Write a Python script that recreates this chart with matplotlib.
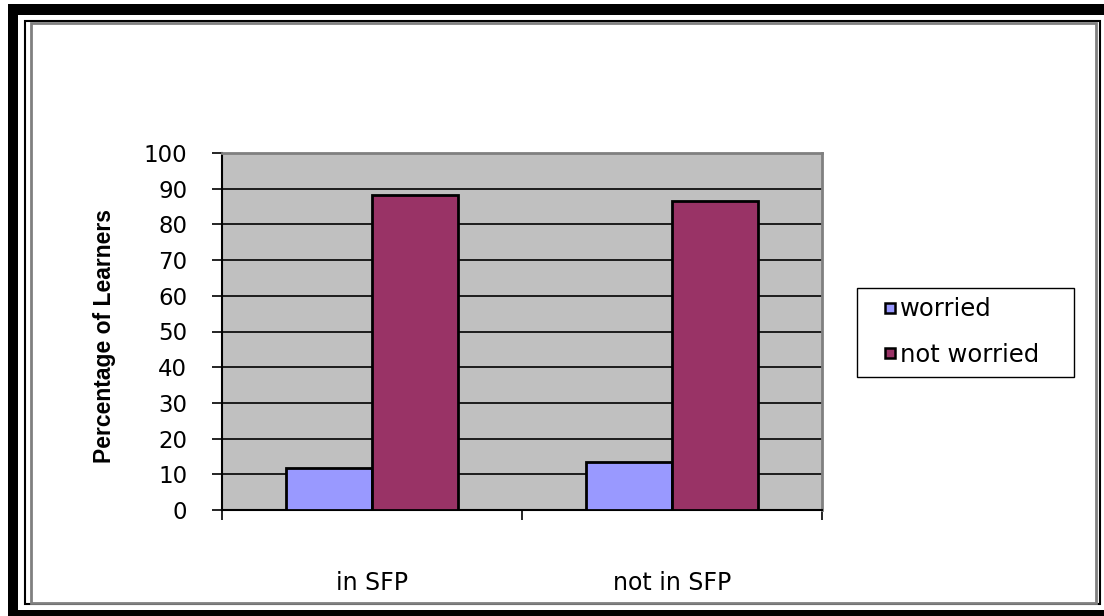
import matplotlib
matplotlib.use("Agg")
import matplotlib.pyplot as plt
from matplotlib.patches import Rectangle
from matplotlib.lines import Line2D
import numpy as np

groups = ["in SFP", "not in SFP"]
series_names = ["worried", "not worried"]
worried = [11.8, 13.4]
not_worried = [88.2, 86.6]
series_colors = ["#9999FF", "#993366"]

W, H = 1104, 616


def px_rect(fig, x0, y0, x1, y1, **kw):
    # pixel box (top-left origin) -> figure-fraction rectangle
    r = Rectangle((x0 / W, 1 - y1 / H), (x1 - x0) / W, (y1 - y0) / H,
                  transform=fig.transFigure, **kw)
    fig.patches.append(r)
    return r


fig = plt.figure(figsize=(W / 100, H / 100), dpi=100)
fig.patch.set_facecolor("white")

# page frame
px_rect(fig, 8, 4, 1104, 15, facecolor="black", edgecolor="none")
px_rect(fig, 8, 4, 18, 616, facecolor="black", edgecolor="none")
px_rect(fig, 8, 610, 1104, 616, facecolor="black", edgecolor="none")
px_rect(fig, 25, 21, 1100, 604, facecolor="none", edgecolor="black", lw=1.5)
px_rect(fig, 31, 23, 1096, 603, facecolor="none", edgecolor="#808080", lw=2)

ax = fig.add_axes([222 / W, 1 - 510 / H, 600 / W, 357 / H])
ax.set_facecolor("#C0C0C0")

x = np.arange(len(groups))
bw = 1 / 3.5
ax.bar(x - bw / 2, worried, bw, color=series_colors[0], edgecolor="black",
       linewidth=2, zorder=3)
ax.bar(x + bw / 2, not_worried, bw, color=series_colors[1], edgecolor="black",
       linewidth=2, zorder=3)

ax.set_xlim(-0.5, len(groups) - 0.5)
ax.set_ylim(0, 100)
ax.set_yticks(range(0, 101, 10))
ax.yaxis.grid(True, color="black", lw=1.2)
ax.set_axisbelow(True)

ax.set_xticks(np.arange(len(groups) + 1) - 0.5)
ax.set_xticklabels([])
ax.set_xticks(x, minor=True)
ax.set_xticklabels(groups, minor=True)
ax.tick_params(axis="x", which="major", direction="out", length=7, width=1.2)
ax.tick_params(axis="x", which="minor", length=0, pad=44, labelsize=17)
ax.tick_params(axis="y", direction="out", length=7, width=1.2, pad=18,
               labelsize=16.5)

for s in ["left", "bottom"]:
    ax.spines[s].set_color("black")
    ax.spines[s].set_linewidth(1.5)
for s in ["top", "right"]:
    ax.spines[s].set_color("#808080")
    ax.spines[s].set_linewidth(2)

fig.text(104 / W, 1 - 336 / H, "Percentage of Learners", rotation=90,
         ha="center", va="center", fontsize=16.5, fontweight="bold",
         family="Liberation Sans")

# legend box drawn separately so its padding can be wider than the entries
px_rect(fig, 857, 288, 1074, 377, facecolor="white", edgecolor="black", lw=1)
handles = [Line2D([], [], ls="none", marker="s", markersize=7.5,
                  markerfacecolor=c, markeredgecolor="black", markeredgewidth=1.8)
           for c in series_colors]
leg = fig.legend(handles, series_names, loc="center left",
                 bbox_to_anchor=(884 / W, 1 - 332 / H), fontsize=17.5,
                 frameon=False, borderpad=0, handlelength=0.5,
                 handletextpad=0.15, labelspacing=0.9, borderaxespad=0)

fig.savefig("out.png", dpi=100)
